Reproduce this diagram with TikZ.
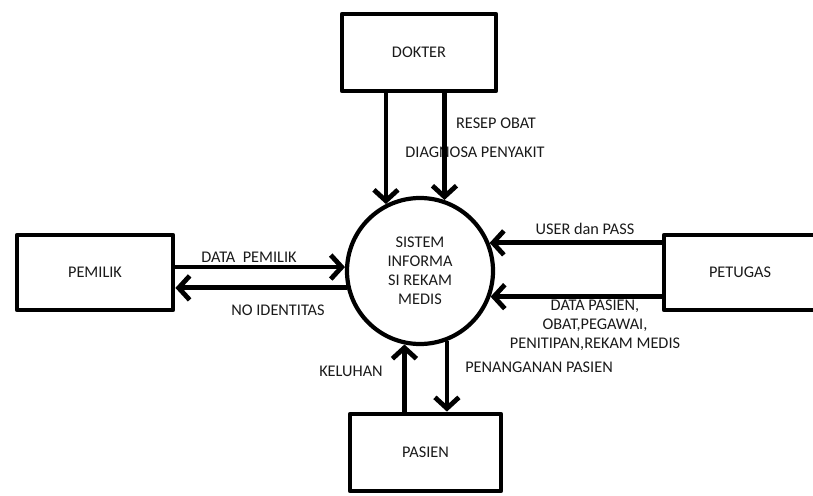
\documentclass[tikz,border=0pt]{standalone}
\usepackage{fontspec}
\setmainfont{Carlito}
\usetikzlibrary{arrows.meta}
\definecolor{ink}{HTML}{1A1A1A}
\begin{document}
\begin{tikzpicture}[x=1pt,y=-1pt,
  font=\fontsize{16.3}{19}\selectfont,
  entity/.style={draw=black,line width=4.8pt,line join=round,fill=white,
    inner sep=0pt,text=ink},
  process/.style={draw=black,circle,line width=4.2pt,minimum size=146pt,
    inner sep=0pt,align=center,text=ink},
  flow/.style={draw=black,line width=4.8pt,
    -{Straight Barb[length=11pt,width=24pt,line width=4.8pt]}},
  lbl/.style={inner sep=0pt,text=ink,align=center}]
\useasboundingbox (0,0) rectangle (813,495);
\clip (0,0) rectangle (813,495);

% external entities
\node[entity,minimum width=154pt,minimum height=77pt] (dok) at (419,52.5) {DOKTER};
\node[entity,minimum width=156pt,minimum height=75pt] (pem) at (95,272.5) {PEMILIK};
\node[entity,minimum width=152pt,minimum height=75pt] (pet) at (740,272.5) {PETUGAS};
\node[entity,minimum width=151pt,minimum height=77pt] (pas) at (425.5,452.5) {PASIEN};

% central process
\node[process] (sys) at (420,271) {SISTEM\\INFORMA\\SI REKAM\\MEDIS};

% flow labels
\node[lbl] (lresep) at (496,123) {RESEP OBAT};
\node[lbl] (ldiag) at (475,152) {DIAGNOSA PENYAKIT};
\node[lbl] (ldpem) at (249,257) {DATA\ \ PEMILIK};
\node[lbl] (lnoid) at (278,310) {NO IDENTITAS};
\node[lbl] (luser) at (585,229) {USER dan PASS};
\node[lbl] (ldpas) at (595,325) {DATA PASIEN,\\OBAT,PEGAWAI,\\PENITIPAN,REKAM MEDIS};
\node[lbl] (lpen) at (539,367) {PENANGANAN PASIEN};
\node[lbl] (lkel) at (351,371) {KELUHAN};

% data flows
\draw[flow] (dok.south -| sys.117) -- (sys.117);
\draw[flow] (dok.south -| sys.71.6) -- (sys.71.6);
\draw[flow] (pem.east |- sys.177.6) -- (sys.177.6);
\draw[flow] (sys.193.5) -- (pem.east |- sys.193.5);
\draw[flow] (pet.west |- sys.22.5) -- (sys.22.5);
\draw[flow] (pet.west |- sys.340.8) -- (sys.340.8);
\draw[flow] (pas.north -| sys.258.1) -- (sys.258.1);
\draw[flow] (sys.291.7) -- (pas.north -| sys.291.7);
\end{tikzpicture}
\end{document}
